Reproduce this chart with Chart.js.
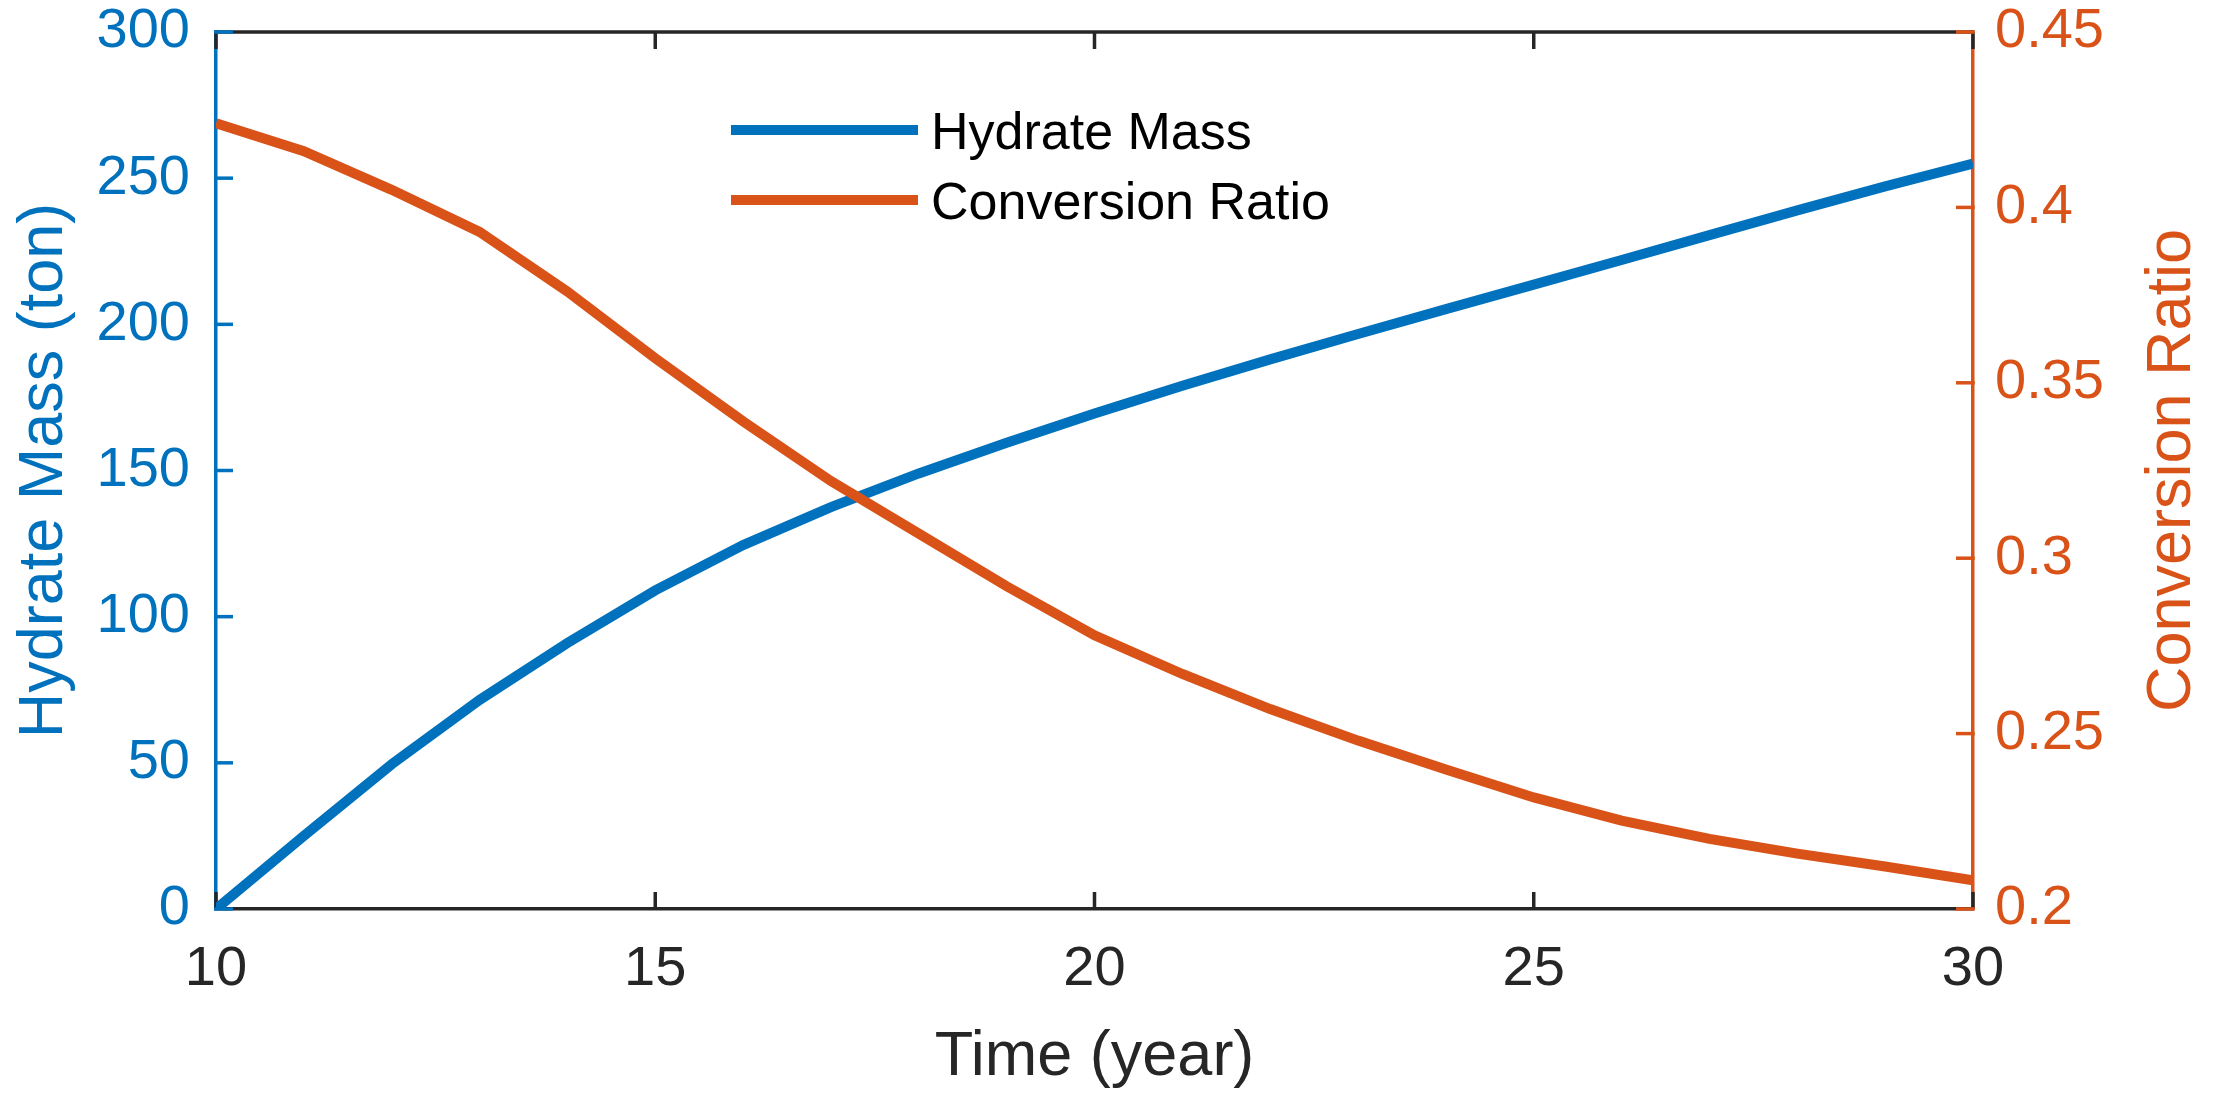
<!DOCTYPE html>
<html>
<head>
<meta charset="utf-8">
<script src="https://cdn.jsdelivr.net/npm/chart.js@4.4.1/dist/chart.umd.min.js"></script>
<style>
  html, body { margin: 0; padding: 0; background: #fff; overflow: hidden; }
  #wrap { width: 2217px; height: 1102px; position: relative; }
</style>
</head>
<body>
<div id="wrap"><canvas id="chart"></canvas></div>
<script>
// data
const years = [10, 11, 12, 13, 14, 15, 16, 17, 18, 19, 20, 21, 22, 23, 24, 25, 26, 27, 28, 29, 30];
const hydrateMass = [0, 25, 49.5, 71.5, 91, 109, 124.5, 137.5, 149, 159.5, 169.5, 179, 188, 196.7, 205.2, 213.6, 222, 230.5, 239, 247.2, 255];
const conversionRatio = [0.424, 0.416, 0.405, 0.393, 0.376, 0.357, 0.339, 0.322, 0.307, 0.292, 0.278, 0.267, 0.257, 0.248, 0.2398, 0.2318, 0.2252, 0.2200, 0.2158, 0.2121, 0.2082];

const xTickValues = [10, 15, 20, 25, 30];
const massTickValues = [0, 50, 100, 150, 200, 250, 300];
const ratioTickValues = [0.2, 0.25, 0.3, 0.35, 0.4, 0.45];
const ratioTickLabels = ['0.2', '0.25', '0.3', '0.35', '0.4', '0.45'];

const BLUE = '#0072BD';
const ORANGE = '#D95319';
const DARK = '#262626';
const FONT = "'Liberation Sans', Arial, sans-serif";
const AXIS_W = 3.5;
const TICK_LEN = 17;

function line(ctx, x1, y1, x2, y2) {
    ctx.beginPath();
    ctx.moveTo(x1, y1);
    ctx.lineTo(x2, y2);
    ctx.stroke();
}

// keep the plot box where it is in the figure, labels may overhang
function noOverhang(s) {
    s.paddingTop = 0;
    s.paddingBottom = 0;
    s.paddingLeft = 0;
    s.paddingRight = 0;
}

// box top line + inward ticks (matlab style)
const framePlugin = {
    id: 'frame',
    beforeDatasetsDraw(chart) {
        const { ctx, chartArea: a, scales } = chart;
        ctx.save();
        ctx.lineCap = 'butt';
        ctx.lineWidth = AXIS_W;

        ctx.strokeStyle = DARK;
        line(ctx, a.left, a.top, a.right, a.top);
        scales.x.ticks.forEach(t => {
            const px = scales.x.getPixelForValue(t.value);
            line(ctx, px, a.bottom, px, a.bottom - TICK_LEN);
            line(ctx, px, a.top, px, a.top + TICK_LEN);
        });

        ctx.strokeStyle = BLUE;
        scales.y.ticks.forEach(t => {
            const py = scales.y.getPixelForValue(t.value);
            line(ctx, a.left - AXIS_W / 2, py, a.left + TICK_LEN, py);
        });

        ctx.strokeStyle = ORANGE;
        scales.y1.ticks.forEach(t => {
            const py = scales.y1.getPixelForValue(t.value);
            line(ctx, a.right + AXIS_W / 2, py, a.right - TICK_LEN, py);
        });
        ctx.restore();
    },
    afterDraw(chart) {
        const { ctx, chartArea: a } = chart;
        const cy = (a.top + a.bottom) / 2;
        ctx.save();
        ctx.font = '63px ' + FONT;
        ctx.textAlign = 'center';
        ctx.textBaseline = 'alphabetic';

        // axis titles
        ctx.fillStyle = DARK;
        ctx.fillText('Time (year)', (a.left + a.right) / 2, 1075);

        ctx.save();
        ctx.translate(62, cy);
        ctx.rotate(-Math.PI / 2);
        ctx.fillStyle = BLUE;
        ctx.fillText('Hydrate Mass (ton)', 0, 0);
        ctx.restore();

        ctx.save();
        ctx.translate(2190, cy);
        ctx.rotate(-Math.PI / 2);
        ctx.fillStyle = ORANGE;
        ctx.fillText('Conversion Ratio', 0, 0);
        ctx.restore();

        // legend
        ctx.font = '52px ' + FONT;
        ctx.textAlign = 'left';
        ctx.lineWidth = 10;
        ctx.lineCap = 'butt';
        const rows = [130, 200];
        chart.data.datasets.forEach((ds, i) => {
            ctx.strokeStyle = ds.borderColor;
            line(ctx, 731, rows[i], 918, rows[i]);
            ctx.fillStyle = '#000';
            ctx.fillText(ds.label, 931, rows[i] + 19);
        });
        ctx.restore();
    }
};

new Chart(document.getElementById('chart'), {
    type: 'line',
    data: {
        datasets: [
            {
                label: 'Hydrate Mass',
                data: years.map((t, i) => ({ x: t, y: hydrateMass[i] })),
                borderColor: BLUE,
                borderWidth: 10,
                pointRadius: 0,
                tension: 0,
                yAxisID: 'y',
                order: 1
            },
            {
                label: 'Conversion Ratio',
                data: years.map((t, i) => ({ x: t, y: conversionRatio[i] })),
                borderColor: ORANGE,
                borderWidth: 10,
                pointRadius: 0,
                tension: 0,
                yAxisID: 'y1',
                order: 0
            }
        ]
    },
    options: {
        responsive: true,
        maintainAspectRatio: false,
        animation: false,
        events: [],
        layout: { padding: { top: 32, left: 0, right: 0, bottom: 0 } },
        plugins: {
            legend: { display: false },
            tooltip: { enabled: false }
        },
        scales: {
            x: {
                type: 'linear',
                min: 10,
                max: 30,
                afterBuildTicks: s => { s.ticks = xTickValues.map(v => ({ value: v })); },
                afterFit: s => { s.height = 1102 - 909; noOverhang(s); },
                grid: { display: false, drawTicks: false },
                border: { display: true, color: DARK, width: AXIS_W },
                ticks: {
                    color: DARK,
                    padding: 33,
                    maxRotation: 0,
                    font: { family: FONT, size: 56, lineHeight: 1 }
                }
            },
            y: {
                position: 'left',
                min: 0,
                max: 300,
                afterBuildTicks: s => { s.ticks = massTickValues.map(v => ({ value: v })); },
                afterFit: s => { s.width = 216; noOverhang(s); },
                grid: { display: false, drawTicks: false },
                border: { display: true, color: BLUE, width: AXIS_W },
                ticks: {
                    color: BLUE,
                    padding: 26,
                    font: { family: FONT, size: 56, lineHeight: 1 }
                }
            },
            y1: {
                position: 'right',
                min: 0.2,
                max: 0.45,
                afterBuildTicks: s => { s.ticks = ratioTickValues.map(v => ({ value: v })); },
                afterFit: s => { s.width = 2217 - 1973; noOverhang(s); },
                grid: { display: false, drawTicks: false },
                border: { display: true, color: ORANGE, width: AXIS_W },
                ticks: {
                    color: ORANGE,
                    padding: 22,
                    callback: (v, i) => ratioTickLabels[i],
                    font: { family: FONT, size: 56, lineHeight: 1 }
                }
            }
        }
    },
    plugins: [framePlugin]
});
</script>
</body>
</html>
